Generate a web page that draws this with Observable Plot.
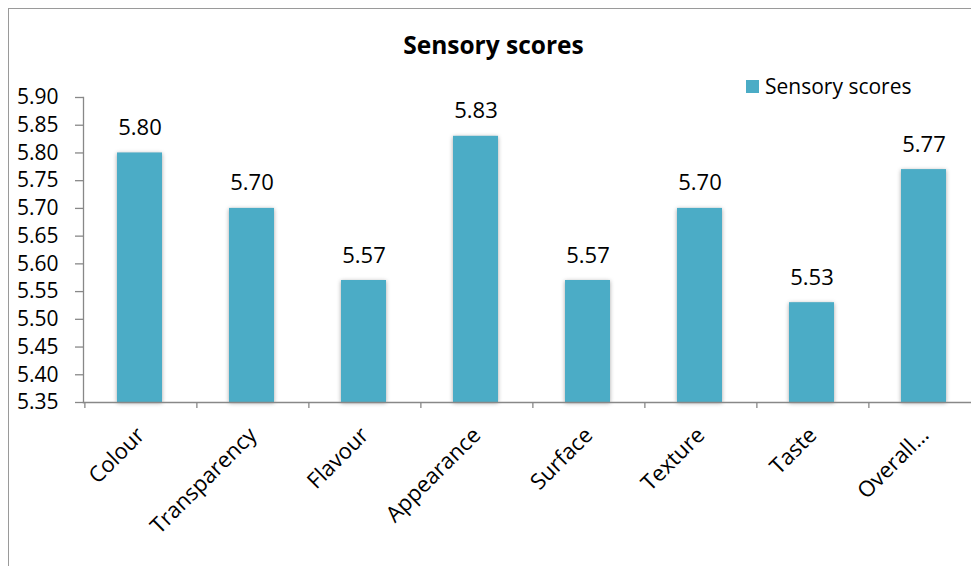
<!DOCTYPE html>
<html>
<head>
<meta charset="utf-8">
<script src="https://cdn.jsdelivr.net/npm/d3@7"></script>
<script src="https://cdn.jsdelivr.net/npm/@observablehq/plot@0.6"></script>
<style>
  html, body { margin: 0; padding: 0; background: #fff; overflow: hidden; width: 971px; height: 566px; }
  #wrap { position: relative; width: 971px; height: 566px; overflow: hidden; font-family: "Open Sans", sans-serif; }
  #border { position: absolute; left: 8px; top: 8px; width: 963px; height: 558px; border-left: 1.3px solid #9a9a9a; border-top: 1.3px solid #9a9a9a; box-sizing: border-box; }
  #title { position: absolute; left: 0; width: 987px; top: 33px; text-align: center; font-weight: bold; font-size: 24.5px; color: #000; line-height: 1; }
  #legend { position: absolute; left: 746px; top: 76px; font-size: 21px; color: #000; display: flex; align-items: center; line-height: 1; }
  #legend .sw { width: 13px; height: 13px; background: #4bacc6; margin-right: 6px; }
  #chart { position: absolute; left: 0; top: 0; width: 971px; height: 566px; overflow: hidden; }
  #chart svg { display: block; }
  #chart g[aria-label="bar"] rect { filter: drop-shadow(0px 1px 2px rgba(0,0,0,0.35)); }
</style>
</head>
<body>
<div id="wrap">
  <div id="border"></div>
  <div id="chart"></div>
  <div id="title">Sensory scores</div>
  <div id="legend"><div class="sw"></div><span>Sensory scores</span></div>
</div>
<script>
const categories = ["Colour", "Transparency", "Flavour", "Appearance", "Surface", "Texture", "Taste", "Overall…"];
const scores = [5.80, 5.70, 5.57, 5.83, 5.57, 5.70, 5.53, 5.77];
const yTicks = [5.35, 5.40, 5.45, 5.50, 5.55, 5.60, 5.65, 5.70, 5.75, 5.80, 5.85, 5.90];

const data = categories.map((c, i) => ({category: c, score: scores[i]}));

const W = 971, H = 566, ML = 83, MR = -10, MT = 97, MB = 164;
const step = (W - ML - MR) / categories.length;

const chart = Plot.plot({
  width: W,
  height: H,
  marginLeft: ML,
  marginRight: MR,
  marginTop: MT,
  marginBottom: MB,
  style: {fontFamily: "Open Sans, sans-serif", fontSize: "21px", color: "#000", background: "transparent", overflow: "hidden"},
  x: {domain: categories, paddingInner: 0.6, paddingOuter: 0.3, axis: null, label: null},
  y: {domain: [5.35, 5.90], axis: null, label: null},
  marks: [
    Plot.barY(data, {x: "category", y1: 5.35, y2: "score", fill: "#4bacc6", dx: -1}),
    Plot.text(data, {x: "category", y: "score", text: d => d.score.toFixed(2), dx: -1, dy: -25, lineAnchor: "middle", fontSize: 22, fill: "#000"}),
    Plot.axisY({ticks: yTicks, tickFormat: d => d.toFixed(2), tickSize: 8, tickPadding: 17, stroke: "#888", strokeWidth: 1.3, fontSize: 21, fill: "#000", label: null}),
    Plot.axisX({tickSize: 6, text: null, dx: -step / 2, stroke: "#888", strokeWidth: 1.3, label: null}),
    Plot.axisX({tickSize: 0, tickRotate: -45, tickPadding: 29, fontSize: 22, fill: "#000", label: null}),
    Plot.frame({anchor: "left", stroke: "#888", strokeWidth: 1.3}),
    Plot.frame({anchor: "bottom", stroke: "#888", strokeWidth: 1.3})
  ]
});
document.getElementById("chart").appendChild(chart);
</script>
</body>
</html>
